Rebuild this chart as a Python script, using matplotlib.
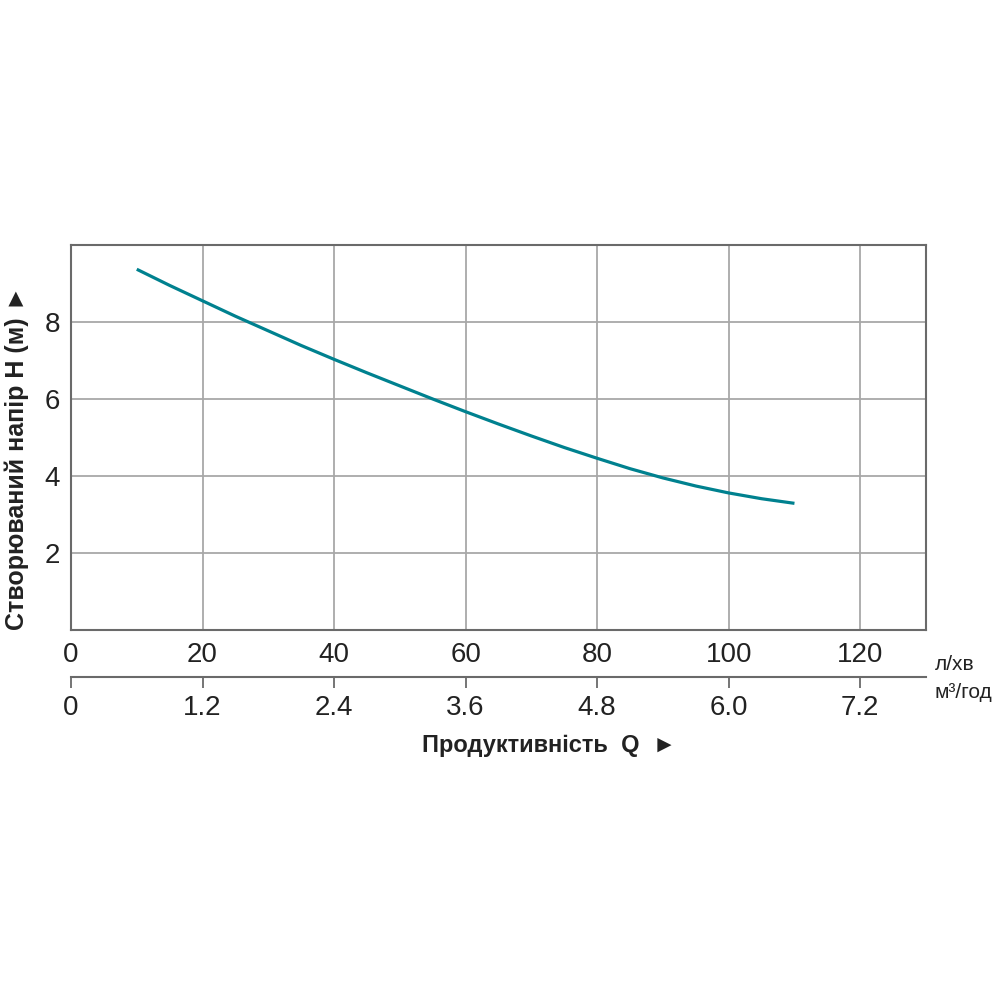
import matplotlib.pyplot as plt

# pump curve
q_lmin = [10, 15, 20, 25, 30, 35, 40, 45, 50, 55, 60,
          65, 70, 75, 80, 85, 90, 95, 100, 105, 110]
h_m = [9.37, 8.95, 8.55, 8.15, 7.77, 7.39, 7.03, 6.68, 6.34, 6.00, 5.67,
       5.35, 5.04, 4.74, 4.46, 4.19, 3.95, 3.74, 3.56, 3.41, 3.29]

x_ticks = [0, 20, 40, 60, 80, 100, 120]
y_ticks = [2, 4, 6, 8]
m3_ticks = [0, 1.2, 2.4, 3.6, 4.8, 6.0, 7.2]
m3_labels = ['0', '1.2', '2.4', '3.6', '4.8', '6.0', '7.2']

plt.rcParams['font.family'] = ['Liberation Sans', 'DejaVu Sans']
txt = '#222222'

fig = plt.figure(figsize=(10, 10), dpi=100)
ax = fig.add_axes([0.071, 0.370, 0.855, 0.385])
ax.plot(q_lmin, h_m, color='#00818f', lw=2.3, solid_capstyle='butt')
ax.set_xlim(0, 130)
ax.set_ylim(0, 10)
ax.set_xticks(x_ticks)
ax.set_yticks(y_ticks)
ax.grid(True, color='#a8a8a8', lw=1.3)
ax.set_axisbelow(True)
ax.tick_params(length=0, labelsize=20, colors=txt, pad=9)
ax.tick_params(axis='y', pad=8)
for s in ax.spines.values():
    s.set_color('#6a6a6a')
    s.set_linewidth(1.5)
ax.set_ylabel('Створюваний напір Н (м) ►', fontsize=18, fontweight='bold',
              color=txt, va='center')
ax.yaxis.set_label_coords(-0.064, 0.447)

# second scale in m3/h
ax2 = fig.add_axes([0.071, 0.323, 0.855, 0.0001])
ax2.set_xlim(0, 130 * 0.06)
ax2.set_ylim(0, 1)
ax2.set_yticks([])
for k in ['top', 'left', 'right']:
    ax2.spines[k].set_visible(False)
ax2.spines['bottom'].set_color('#6a6a6a')
ax2.spines['bottom'].set_linewidth(1.5)
ax2.set_xticks(m3_ticks)
ax2.set_xticklabels(m3_labels)
ax2.tick_params(axis='x', direction='out', length=8, width=1.3, color='#6a6a6a',
                labelsize=20, labelcolor=txt, pad=5)
ax2.set_xlabel('Продуктивність  Q  ►', fontsize=17, fontweight='bold',
               color=txt, va='center')
ax2.xaxis.set_label_coords(0.559, -68 / 0.1)

fig.text(0.935, 0.336, 'л/хв', fontsize=15, color=txt, ha='left', va='center')
fig.text(0.935, 0.308, 'м³/год', fontsize=15, color=txt, ha='left', va='center')

fig.savefig('out.png', dpi=100, facecolor='white')
